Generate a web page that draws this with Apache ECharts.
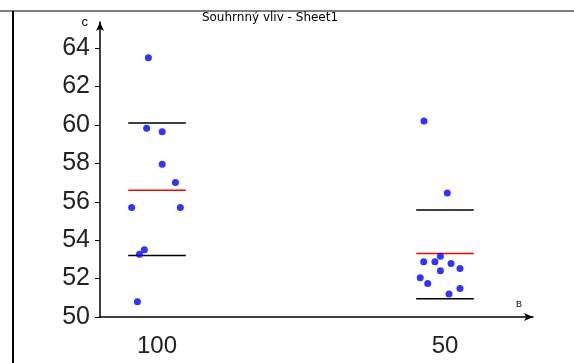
<!DOCTYPE html>
<html>
<head>
<meta charset="utf-8">
<script src="https://cdn.jsdelivr.net/npm/echarts@6/dist/echarts.min.js"></script>
<style>
html, body { margin: 0; padding: 0; background: #fff; }
#main { width: 574px; height: 363px; }
</style>
</head>
<body>
<div id="main"></div>
<script>
// kategorie osy B a jejich pozice
const categories = ['100', '50'];
const catPos = [1, 2];
const yTicks = [50, 52, 54, 56, 58, 60, 62, 64];

// hodnoty c pro jednotlivé skupiny + horizontální rozptyl bodů
const values100 = [63.5, 59.83, 59.65, 57.95, 57.0, 55.7, 55.7, 53.5, 53.27, 50.8];
const jitter100 = [-0.030, -0.036, 0.018, 0.018, 0.064, -0.088, 0.081, -0.044, -0.061, -0.068];
const values50 = [60.2, 56.46, 52.88, 52.88, 53.16, 52.78, 52.52, 52.41, 52.05, 51.75, 51.48, 51.2];
const jitter50 = [-0.073, 0.008, -0.074, -0.035, -0.016, 0.021, 0.052, -0.016, -0.086, -0.060, 0.052, 0.014];

// průměr a průměr +- směrodatná odchylka
const means = [56.6, 53.3];
const upper = [60.1, 55.57];
const lower = [53.2, 50.95];

const halfW = 0.1;

function points(vals, jit, pos) {
    let out = [];
    for (let t = 0; t < vals.length; t++) {
        out.push([pos + jit[t], vals[t]]);
    }
    return out;
}

function segSeries(arr, color) {
    let res = [];
    for (let t = 0; t < arr.length; t++) {
        res.push({
            type: 'line',
            data: [[catPos[t] - halfW, arr[t]], [catPos[t] + halfW, arr[t]]],
            symbol: 'none',
            lineStyle: { color: color, width: 1.5 },
            silent: true,
            z: 1
        });
    }
    return res;
}

let chart = echarts.init(document.getElementById('main'));
let series = [];
series = series.concat(segSeries(upper, '#000'));
series = series.concat(segSeries(lower, '#000'));
series = series.concat(segSeries(means, '#ff0000'));
series.push({
    type: 'scatter',
    data: points(values100, jitter100, catPos[0]).concat(points(values50, jitter50, catPos[1])),
    symbolSize: 7,
    itemStyle: { color: '#0000ff' },
    z: 3
});

chart.setOption({
    animation: false,
    title: {
        text: 'Souhrnný vliv - Sheet1',
        left: 265,
        top: 7,
        textAlign: 'center',
        textStyle: { fontFamily: 'DejaVu Sans', fontSize: 12, fontWeight: 'normal', color: '#000' }
    },
    grid: { left: 100, top: 22, right: 41, bottom: 46 },
    xAxis: {
        type: 'value',
        min: 0.802,
        max: 2.3056,
        splitLine: { show: false },
        axisLine: { lineStyle: { color: '#000', width: 1.5 }, symbol: ['none', 'arrow'], symbolSize: [6, 9] },
        axisTick: { show: false },
        axisLabel: {
            customValues: catPos,
            formatter: function (v) { return categories[catPos.indexOf(v)]; },
            margin: 17,
            fontFamily: 'Liberation Sans',
            fontSize: 24,
            color: '#222'
        },
        name: 'B',
        nameLocation: 'end',
        nameGap: -17,
        nameTextStyle: { fontSize: 9, color: '#000', verticalAlign: 'bottom', padding: [0, 0, 8, 0] }
    },
    yAxis: {
        type: 'value',
        min: 50,
        max: 65.36,
        splitLine: { show: false },
        axisLine: { show: true, lineStyle: { color: '#000', width: 1.5 }, symbol: ['none', 'arrow'], symbolSize: [6, 9] },
        axisTick: { show: true, customValues: yTicks, length: 5, lineStyle: { color: '#000' } },
        axisLabel: {
            customValues: yTicks,
            margin: 10,
            fontFamily: 'Liberation Sans',
            fontSize: 25,
            color: '#222'
        },
        name: 'c',
        nameLocation: 'end',
        nameGap: 0,
        nameTextStyle: { fontSize: 13, color: '#000', align: 'right', verticalAlign: 'top', padding: [-6, 12, 0, 0] }
    },
    graphic: [
        { type: 'line', shape: { x1: 0, y1: 11, x2: 574, y2: 11 }, style: { stroke: '#000', lineWidth: 1 } },
        { type: 'line', shape: { x1: 13, y1: 11, x2: 13, y2: 363 }, style: { stroke: '#000', lineWidth: 2 } }
    ],
    series: series
});
</script>
</body>
</html>
